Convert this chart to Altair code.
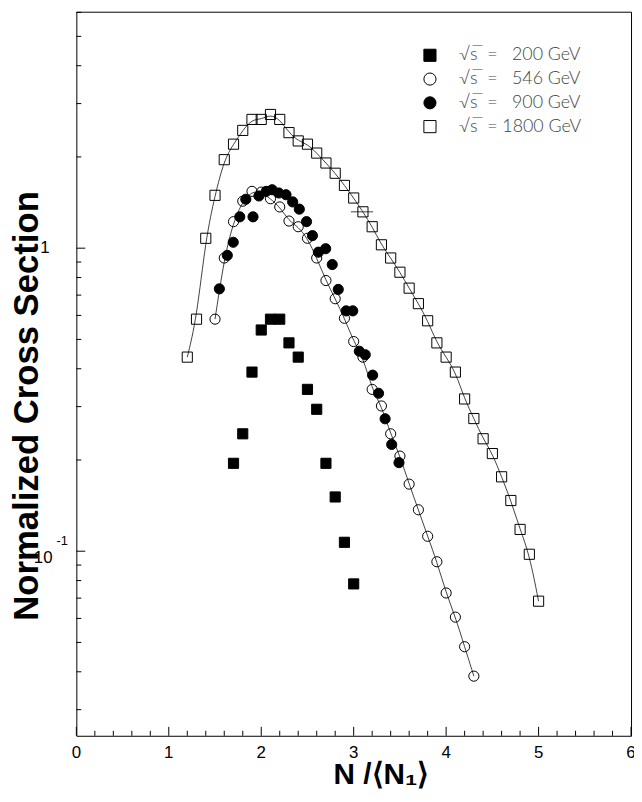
import altair as alt
import pandas as pd

# ---------------- data ----------------
series_names = ["√s̅\u00a0\u00a0=\u00a0\u00a0\u00a0200 GeV",
                "√s̅\u00a0\u00a0=\u00a0\u00a0\u00a0546 GeV",
                "√s̅\u00a0\u00a0=\u00a0\u00a0\u00a0900 GeV",
                "√s̅\u00a0\u00a0=\u00a01800 GeV"]

x_200 = [1.7, 1.8, 1.9, 2.0, 2.1, 2.2, 2.3, 2.4, 2.5, 2.6, 2.7, 2.8, 2.9, 3.0]
y_200 = [0.195, 0.244, 0.390, 0.537, 0.583, 0.583, 0.487, 0.437, 0.342, 0.294,
         0.195, 0.151, 0.107, 0.078]

x_546 = [1.5, 1.6, 1.7, 1.8, 1.9, 2.0, 2.1, 2.2, 2.3, 2.4, 2.5, 2.6, 2.7, 2.8, 2.9,
         3.0, 3.1, 3.2, 3.3, 3.4, 3.5, 3.6, 3.7, 3.8, 3.9, 4.0, 4.1, 4.2, 4.3]
y_546 = [0.583, 0.928, 1.223, 1.429, 1.540, 1.531, 1.456, 1.368, 1.229, 1.177, 1.078,
         0.928, 0.782, 0.681, 0.587, 0.492, 0.437, 0.342, 0.3015, 0.244, 0.206, 0.1665,
         0.137, 0.112, 0.0923, 0.0728, 0.0606, 0.0484, 0.0387]

x_900 = [1.547, 1.633, 1.697, 1.768, 1.833, 1.911, 1.975, 2.054, 2.118, 2.190, 2.268,
         2.340, 2.412, 2.490, 2.554, 2.618, 2.697, 2.768, 2.833, 2.919, 2.990, 3.061,
         3.125, 3.205, 3.269, 3.340, 3.411, 3.490]
y_900 = [0.734, 0.947, 1.046, 1.269, 1.450, 1.269, 1.487, 1.540, 1.559, 1.521, 1.501,
         1.421, 1.345, 1.223, 1.100, 0.970, 0.996, 0.883, 0.731, 0.621, 0.621, 0.457,
         0.445, 0.381, 0.332, 0.2735, 0.225, 0.196]

x_1800 = [1.2, 1.3, 1.4, 1.5, 1.6, 1.7, 1.8, 1.9, 2.0, 2.1, 2.2, 2.3, 2.4, 2.5, 2.6,
          2.7, 2.8, 2.9, 3.0, 3.1, 3.2, 3.3, 3.4, 3.5, 3.6, 3.7, 3.8, 3.9, 4.0, 4.1,
          4.2, 4.3, 4.4, 4.5, 4.6, 4.7, 4.8, 4.9, 5.0]
y_1800 = [0.437, 0.583, 1.078, 1.494, 1.959, 2.204, 2.447, 2.660, 2.660, 2.762, 2.660,
          2.406, 2.259, 2.204, 2.060, 1.910, 1.767, 1.611, 1.464, 1.318, 1.177, 1.026,
          0.928, 0.833, 0.738, 0.656, 0.576, 0.487, 0.437, 0.390, 0.318, 0.274, 0.235,
          0.210, 0.176, 0.147, 0.118, 0.0977, 0.0684]

# horizontal error bar on one 1800 GeV point
err_x_lo = [2.97]
err_x_hi = [3.21]
err_y = [1.318]

x_major_ticks = [0, 1, 2, 3, 4, 5, 6]
x_minor_ticks = [0.2, 0.4, 0.6, 0.8, 1.2, 1.4, 1.6, 1.8, 2.2, 2.4, 2.6, 2.8,
                 3.2, 3.4, 3.6, 3.8, 4.2, 4.4, 4.6, 4.8, 5.2, 5.4, 5.6, 5.8]
x_tick_labels = ["0", "1", "2", "3", "4", "5", "6"]
y_major_ticks = [0.1, 1]
y_minor_ticks = [0.03, 0.04, 0.05, 0.06, 0.07, 0.08, 0.09,
                 0.2, 0.3, 0.4, 0.5, 0.6, 0.7, 0.8, 0.9, 2, 3, 4, 5, 6]

# ---------------- tables ----------------
rows = []
for name, xv, yv in [(series_names[0], x_200, y_200), (series_names[1], x_546, y_546),
                     (series_names[2], x_900, y_900), (series_names[3], x_1800, y_1800)]:
    for a, b in zip(xv, yv):
        rows.append({"x": a, "y": b, "series": name})
df_pts = pd.DataFrame(rows)
df_lines = df_pts[df_pts["series"].isin([series_names[1], series_names[3]])]
df_err = pd.DataFrame({"lo": err_x_lo, "hi": err_x_hi, "y": err_y})

W, H = 560, 731
xs = alt.Scale(domain=[0, 6], nice=False, zero=False)
ys = alt.Scale(type="log", domain=[0.0246, 6.03], nice=False)

FONT = "Liberation Sans"

legend = alt.Legend(title=None, orient="none", legendX=348, legendY=35, padding=0,
                    symbolSize=150, symbolStrokeColor="black", symbolStrokeWidth=1,
                    symbolOpacity=1, labelFont="Lato", labelFontWeight=300,
                    labelFontSize=18, labelColor="#444444", labelOffset=20,
                    rowPadding=6)

lines = alt.Chart(df_lines).mark_line(color="#111111", strokeWidth=0.8,
                                      interpolate="basis").encode(
    x=alt.X("x:Q", scale=xs, axis=None),
    y=alt.Y("y:Q", scale=ys, axis=None),
    detail="series:N",
)

errbar = alt.Chart(df_err).mark_rule(color="#111111", strokeWidth=0.8).encode(
    x=alt.X("lo:Q", scale=xs, axis=None), x2="hi:Q",
    y=alt.Y("y:Q", scale=ys, axis=None))

points = alt.Chart(df_pts).mark_point(opacity=1, fillOpacity=1, strokeOpacity=1,
                                      strokeWidth=1, size=105).encode(
    x=alt.X("x:Q", scale=xs, axis=None),
    y=alt.Y("y:Q", scale=ys, axis=None),
    shape=alt.Shape("series:N", scale=alt.Scale(domain=series_names,
                    range=["square", "circle", "circle", "square"]), legend=legend),
    fill=alt.Fill("series:N", scale=alt.Scale(domain=series_names,
                  range=["black", "transparent", "black", "transparent"]), legend=legend),
    stroke=alt.Stroke("series:N", scale=alt.Scale(domain=series_names,
                      range=["black", "black", "black", "black"]), legend=legend),
)

# ticks pointing inward
df_xmaj = pd.DataFrame({"v": x_major_ticks, "t": x_tick_labels})
df_xmin = pd.DataFrame({"v": x_minor_ticks})
df_ymaj = pd.DataFrame({"v": y_major_ticks})
df_ymin = pd.DataFrame({"v": y_minor_ticks})

xmaj = alt.Chart(df_xmaj).mark_rule(color="black", strokeWidth=1).encode(
    x=alt.X("v:Q", scale=xs, axis=None), y=alt.value(H), y2=alt.value(H - 9))
xmin = alt.Chart(df_xmin).mark_rule(color="black", strokeWidth=1).encode(
    x=alt.X("v:Q", scale=xs, axis=None), y=alt.value(H), y2=alt.value(H - 5))
ymaj = alt.Chart(df_ymaj).mark_rule(color="black", strokeWidth=1).encode(
    y=alt.Y("v:Q", scale=ys, axis=None), x=alt.value(0), x2=alt.value(9))
ymin = alt.Chart(df_ymin).mark_rule(color="black", strokeWidth=1).encode(
    y=alt.Y("v:Q", scale=ys, axis=None), x=alt.value(0), x2=alt.value(5))

xlab = alt.Chart(df_xmaj).mark_text(font=FONT, fontSize=17, color="black",
                                    align="center", baseline="middle").encode(
    x=alt.X("v:Q", scale=xs, axis=None), y=alt.value(H + 17), text="t:N")

df_y1 = pd.DataFrame({"v": [1], "t": ["1"]})
df_y10 = pd.DataFrame({"v": [0.1], "t": ["10"], "e": ["-1"]})
ylab1 = alt.Chart(df_y1).mark_text(font=FONT, fontSize=17, color="black",
                                   align="right", baseline="middle").encode(
    y=alt.Y("v:Q", scale=ys, axis=None), x=alt.value(-27), text="t:N")
ylab10 = alt.Chart(df_y10).mark_text(font=FONT, fontSize=17, color="black",
                                     align="right", baseline="middle", dy=7).encode(
    y=alt.Y("v:Q", scale=ys, axis=None), x=alt.value(-24), text="t:N")
ylabexp = alt.Chart(df_y10).mark_text(font=FONT, fontSize=13, color="black",
                                      align="left", baseline="middle", dy=-10).encode(
    y=alt.Y("v:Q", scale=ys, axis=None), x=alt.value(-20), text="e:N")

df_titles = pd.DataFrame({"xt": ["N /⟨N₁⟩"], "yt": ["Normalized Cross Section"]})
xtitle = alt.Chart(df_titles).mark_text(font=FONT, fontSize=30, fontWeight="bold",
                                        color="black", align="center",
                                        baseline="alphabetic").encode(
    x=alt.value(308), y=alt.value(780), text="xt:N")
ytitle = alt.Chart(df_titles).mark_text(font=FONT, fontSize=35, fontWeight="bold",
                                        color="black", align="center", baseline="middle",
                                        angle=270).encode(
    x=alt.value(-50), y=alt.value(398), text="yt:N")

chart = alt.layer(lines, errbar, points, xmaj, xmin, ymaj, ymin, xlab, ylab1, ylab10,
                  ylabexp, xtitle, ytitle).properties(
    width=W, height=H,
    padding={"left": 69, "top": 0, "right": 3, "bottom": 51},
    autosize=alt.AutoSizeParams(type="none"),
).configure_view(stroke="black", strokeWidth=1)

chart.save("out.html", embed_options={"renderer": "svg", "actions": False})
